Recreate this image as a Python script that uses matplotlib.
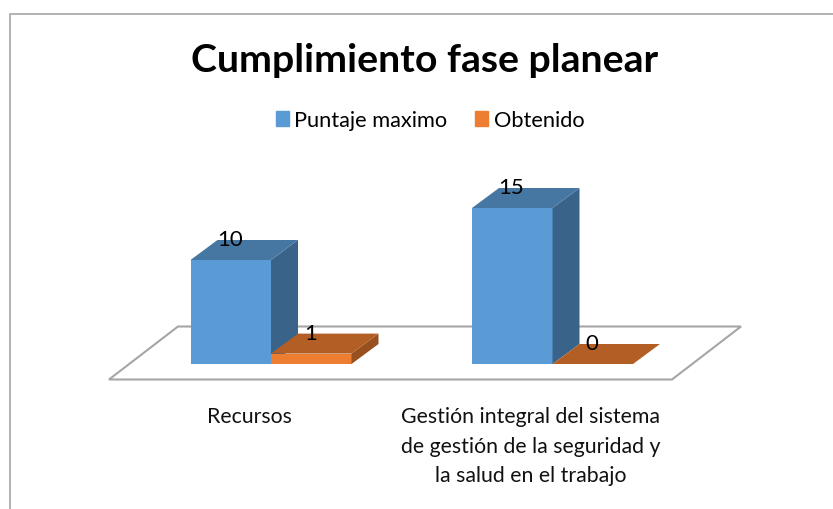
import matplotlib
matplotlib.use("Agg")
import matplotlib.pyplot as plt
from matplotlib.patches import Polygon, Patch

categories = ["Recursos", "Gestión integral del sistema\nde gestión de la seguridad y\nla salud en el trabajo"]
series_names = ["Puntaje maximo", "Obtenido"]
puntaje_maximo = [10, 15]
obtenido = [1, 0]

plt.rcParams["font.family"] = ["Lato", "DejaVu Sans"]

W, H = 833, 510
BASE_Y = 365      # pixel row of value 0
PX_PER_UNIT = 10.4
PX_PER_CAT = 281.5
CAT0_X = 271

bar_w = 80.5 / PX_PER_CAT
dx = 27 / PX_PER_CAT   # depth of the fake 3d
dy = 20 / PX_PER_UNIT

fig = plt.figure(figsize=(W / 100, H / 100), dpi=100)
ax = fig.add_axes([0, 0, 1, 1])
ax.set_xlim(-CAT0_X / PX_PER_CAT, (W - CAT0_X) / PX_PER_CAT)
ax.set_ylim((BASE_Y - H) / PX_PER_UNIT, BASE_Y / PX_PER_UNIT)
ax.axis("off")


def bar3d(x, v, front, top, side):
    if v > 0:
        ax.add_patch(Polygon([(x, 0), (x + bar_w, 0), (x + bar_w, v), (x, v)], color=front, lw=0, zorder=3))
        ax.add_patch(Polygon([(x + bar_w, 0), (x + bar_w + dx, dy), (x + bar_w + dx, v + dy), (x + bar_w, v)],
                             color=side, lw=0, zorder=3))
    ax.add_patch(Polygon([(x, v), (x + bar_w, v), (x + bar_w + dx, v + dy), (x + dx, v + dy)],
                         color=top, lw=0, zorder=3))
    ax.text(x + bar_w / 2 - 0.003, v + dy + 0.1, str(v), ha="center", va="center", fontsize=16, color="black", zorder=5)


# floor of the 3d chart
floor_dx = 69 / PX_PER_CAT
floor_front = -15.5 / PX_PER_UNIT
floor_back = 37.5 / PX_PER_UNIT
floor_left = (109 - CAT0_X) / PX_PER_CAT
floor_right = (672 - CAT0_X) / PX_PER_CAT
ax.add_patch(Polygon([(floor_left, floor_front), (floor_right, floor_front),
                      (floor_right + floor_dx, floor_back), (floor_left + floor_dx, floor_back)],
                     closed=True, facecolor="white", edgecolor="#a6a6a6", lw=1.5, zorder=1))

for i in range(len(categories)):
    bar3d(i - bar_w, puntaje_maximo[i], "#5b9bd5", "#4676a2", "#3a638a")
    bar3d(i, obtenido[i], "#ed7d31", "#b25e24", "#97501e")
    ax.text(i - 22 / PX_PER_CAT, -4.05, categories[i], ha="center", va="top", fontsize=15.3,
            linespacing=1.6, color="#111111")

# chart frame, cut by the image edge
ax.plot([9.5 / W, 9.5 / W, 1], [0, 1 - 14.5 / H, 1 - 14.5 / H], transform=ax.transAxes, color="#a6a6a6", lw=1.2)

fig.text(425 / W, 1 - 60 / H, "Cumplimiento fase planear", ha="center", va="center",
         fontsize=28.3, fontweight="bold", color="black")

handles = [Patch(color="#5b9bd5", label=series_names[0]), Patch(color="#ed7d31", label=series_names[1])]
fig.legend(handles=handles, loc="center", bbox_to_anchor=(430 / W, 1 - 121 / H), ncol=2, frameon=False,
           fontsize=15.7, handlelength=0.62, handleheight=0.7, handletextpad=0.25, columnspacing=1.25)

fig.savefig("out.png", dpi=100)
